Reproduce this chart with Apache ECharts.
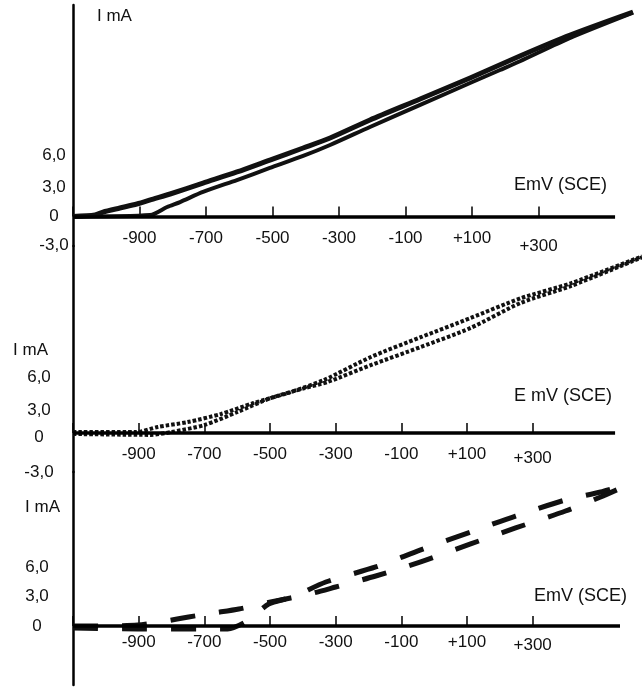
<!DOCTYPE html>
<html><head><meta charset="utf-8">
<script src="https://cdn.jsdelivr.net/npm/echarts@6/dist/echarts.min.js"></script>
<style>html,body{margin:0;padding:0;background:#fff}#c{width:642px;height:688px}</style>
</head><body><div id="c"></div>
<script>
// ---- tick labels ----
const potentialTicks = [-900, -700, -500, -300, -100, 100, 300];
const potentialTickMarks = [-1100, -900, -700, -500, -300, -100, 100, 300];
const currentTicks = [-3, 0, 3, 6];
const xName = ['EmV (SCE)', 'E mV (SCE)', 'EmV (SCE)'];
const yName = 'I mA';
const axisStart = -1100;
const axisEnd = [530, 551, 566];

// ---- panel 1 (solid) : potential mV, current mA ----
const p1aE = [-1100, -1034, -1010, -959, -908, -859, -808, -709, -607, -508, -408, -327, -207, -56, 94, 244, 395, 584];
const p1aI = [0, 0.15, 0.46, 0.88, 1.29, 1.8, 2.32, 3.45, 4.59, 5.82, 7.06, 8.09, 9.95, 12.11, 14.28, 16.55, 18.71, 21.08];
const p1bE = [-1100, -868, -817, -778, -709, -607, -508, -408, -327, -207, -56, 94, 184, 244, 395, 584];
const p1bI = [0, 0.15, 0.98, 1.49, 2.53, 3.76, 5.0, 6.24, 7.37, 9.23, 11.5, 13.76, 15.1, 16.0, 18.4, 21.0];

// ---- panel 2 (dotted) ----
const p2aE = [-1100, -909, -842, -751, -650, -550, -446, -336, -193, -41, 111, 264, 416, 633];
const p2aI = [0.1, 0.1, 0.65, 1.18, 2.04, 3.23, 4.3, 5.7, 8.17, 10.3, 12.37, 14.5, 16.1, 19.0];
const p2bE = [-1100, -863, -802, -701, -599, -498, -397, -324, -193, -41, 111, 264, 416, 633];
const p2bI = [-0.1, -0.2, 0.1, 0.85, 2.26, 3.76, 4.8, 5.5, 7.3, 9.25, 11.3, 14.0, 15.8, 18.9];

// ---- panel 3 (dashed) ----
const p3aE = [-1100, -1016, -903, -818, -748, -671, -595, -498, -437, -367, -300, -178, -41, 111, 248, 400, 507, 583];
const p3aI = [0, 0, 0.1, 0.5, 0.92, 1.33, 1.73, 2.45, 2.86, 3.37, 3.98, 5.1, 6.53, 8.37, 10.0, 11.73, 13.16, 14.29];
const p3bE = [-1100, -903, -711, -629, -565, -504, -431, -330, -178, -41, 111, 248, 400, 507, 583];
const p3bI = [-0.2, -0.3, -0.3, -0.3, 0.61, 2.24, 2.96, 4.49, 6.02, 7.76, 9.59, 11.22, 12.86, 13.67, 14.39];

const zip = (e, i) => e.map((v, k) => [v, i[k]]);
const FONT = "'Liberation Sans', Arial, sans-serif";
const INK = '#111';
const txt = (size) => ({ fontSize: size, fontFamily: FONT, color: INK });

function fmtE(v) { return v > 0 ? '+' + v : String(v); }
function fmtI(v) { return v === 0 ? '0' : v.toFixed(1).replace('.', ','); }

const richBase = {
  lo8: Object.assign({ padding: [8, 0, 0, 0] }, txt(17)),
  lo4: Object.assign({ padding: [4, 0, 0, 0] }, txt(17)),
  lo3: Object.assign({ padding: [3, 0, 0, 0] }, txt(17)),
  d4: Object.assign({ padding: [8, 0, 0, 0] }, txt(17)),
  d5: Object.assign({ padding: [10, 0, 0, 0] }, txt(17)),
  d11: Object.assign({ padding: [22, 0, 0, 0] }, txt(17)),
  u3: Object.assign({ padding: [0, 0, 6, 0] }, txt(17)),
  n: Object.assign({ padding: [0, 0, 74, 0] }, txt(18))
};

const grids = [
  { left: 73, right: 0, top: 5, height: 241, outerBoundsMode: 'none', containLabel: false },
  { left: 73, right: 0, top: 246, height: 226, outerBoundsMode: 'none', containLabel: false },
  { left: 73, right: 0, top: 472, height: 213, outerBoundsMode: 'none', containLabel: false }
];
const xMax = [611, 633, 633];
const xOffset = [-29.5, -39, -59];
const yMin = [-3.04, -4.19, -6.02];
const yMax = [21.8, 20.11, 15.71];
const xLabelMargin = [13, 13, 8];
const x300Key = ['lo8', 'lo4', 'lo3'];
const xNameGap = [-35, -30, -15];
const xNameStyle = [
  { align: 'right', verticalAlign: 'bottom', padding: [0, 0, 22, 0] },
  { align: 'right', verticalAlign: 'middle' },
  { align: 'right', verticalAlign: 'bottom', padding: [0, 0, 21, 0] }
];
const yLabelMargin = [19, 34, 36];
const yShift = [{ 6: 'u3' }, { 3: 'd5', 0: 'd4', '-3': 'd11' }, {}];
const yNameGap = [-11, -104, -35];
const yNameStyle = [
  { align: 'left', padding: [0, 0, 0, 24] },
  { align: 'right', padding: [0, 25, 0, 0] },
  { align: 'right', padding: [0, 13, 0, 0] }
];
const yLabelsShown = [currentTicks, currentTicks, [0, 3, 6]];

const xAxes = [0, 1, 2].map(k => ({
  type: 'value', gridIndex: k, min: axisStart, max: xMax[k],
  position: 'bottom', offset: xOffset[k],
  name: k === 1 ? '{n|' + xName[k] + '}' : xName[k], nameLocation: 'end', nameGap: xNameGap[k],
  nameMoveOverlap: false,
  nameTextStyle: Object.assign({ rich: richBase }, xNameStyle[k], txt(18)),
  axisLine: { show: false, onZero: false },
  axisTick: { show: true, inside: true, length: 10, customValues: potentialTickMarks, lineStyle: { color: '#000', width: 1.5 } },
  axisLabel: Object.assign({
    customValues: potentialTicks, margin: xLabelMargin[k],
    formatter: v => v === 300 ? '{' + x300Key[k] + '|' + fmtE(v) + '}' : fmtE(v),
    rich: richBase
  }, txt(17)),
  splitLine: { show: false }
}));

const yAxes = [0, 1, 2].map(k => ({
  type: 'value', gridIndex: k, min: yMin[k], max: yMax[k],
  name: yName, nameLocation: 'end', nameGap: yNameGap[k],
  nameTextStyle: Object.assign({ verticalAlign: 'middle' }, yNameStyle[k], txt(17)),
  axisLine: { show: true, onZero: false, lineStyle: { color: '#000', width: 2.5 } },
  axisTick: { show: false },
  axisLabel: Object.assign({
    customValues: yLabelsShown[k], margin: yLabelMargin[k], align: 'center',
    formatter: v => { const key = yShift[k][v]; const t = fmtI(v); return key ? '{' + key + '|' + t + '}' : t; },
    rich: richBase
  }, txt(17)),
  splitLine: { show: false }
}));

function curve(k, data, style, withAxis) {
  const s = {
    type: 'line', xAxisIndex: k, yAxisIndex: k, data: data, symbol: 'none',
    smooth: 0.25, clip: false, silent: true,
    lineStyle: Object.assign({ color: '#111', cap: 'butt', join: 'round' }, style)
  };
  if (withAxis) {
    // the potential axis line, drawn from the axis start to its end at zero current
    s.markLine = {
      silent: true, symbol: 'none', label: { show: false }, animation: false,
      lineStyle: { color: '#000', width: 3.5, type: 'solid' },
      data: [[{ coord: [axisStart, 0] }, { coord: [axisEnd[k], 0] }]]
    };
  }
  return s;
}

const chart = echarts.init(document.getElementById('c'), null, { renderer: 'canvas' });
chart.setOption({
  animation: false,
  backgroundColor: '#fff',
  grid: grids,
  xAxis: xAxes,
  yAxis: yAxes,
  series: [
    curve(0, zip(p1aE, p1aI), { width: 5, type: 'solid' }, true),
    curve(0, zip(p1bE, p1bI), { width: 4, type: 'solid' }),
    curve(1, zip(p2aE, p2aI), { width: 4, type: [3.5, 2] }, true),
    curve(1, zip(p2bE, p2bI), { width: 4, type: [3.5, 2] }),
    curve(2, zip(p3aE, p3aI), { width: 5, type: [25, 24] }, true),
    curve(2, zip(p3bE, p3bI), { width: 5, type: [25, 24] })
  ]
});
</script></body></html>
